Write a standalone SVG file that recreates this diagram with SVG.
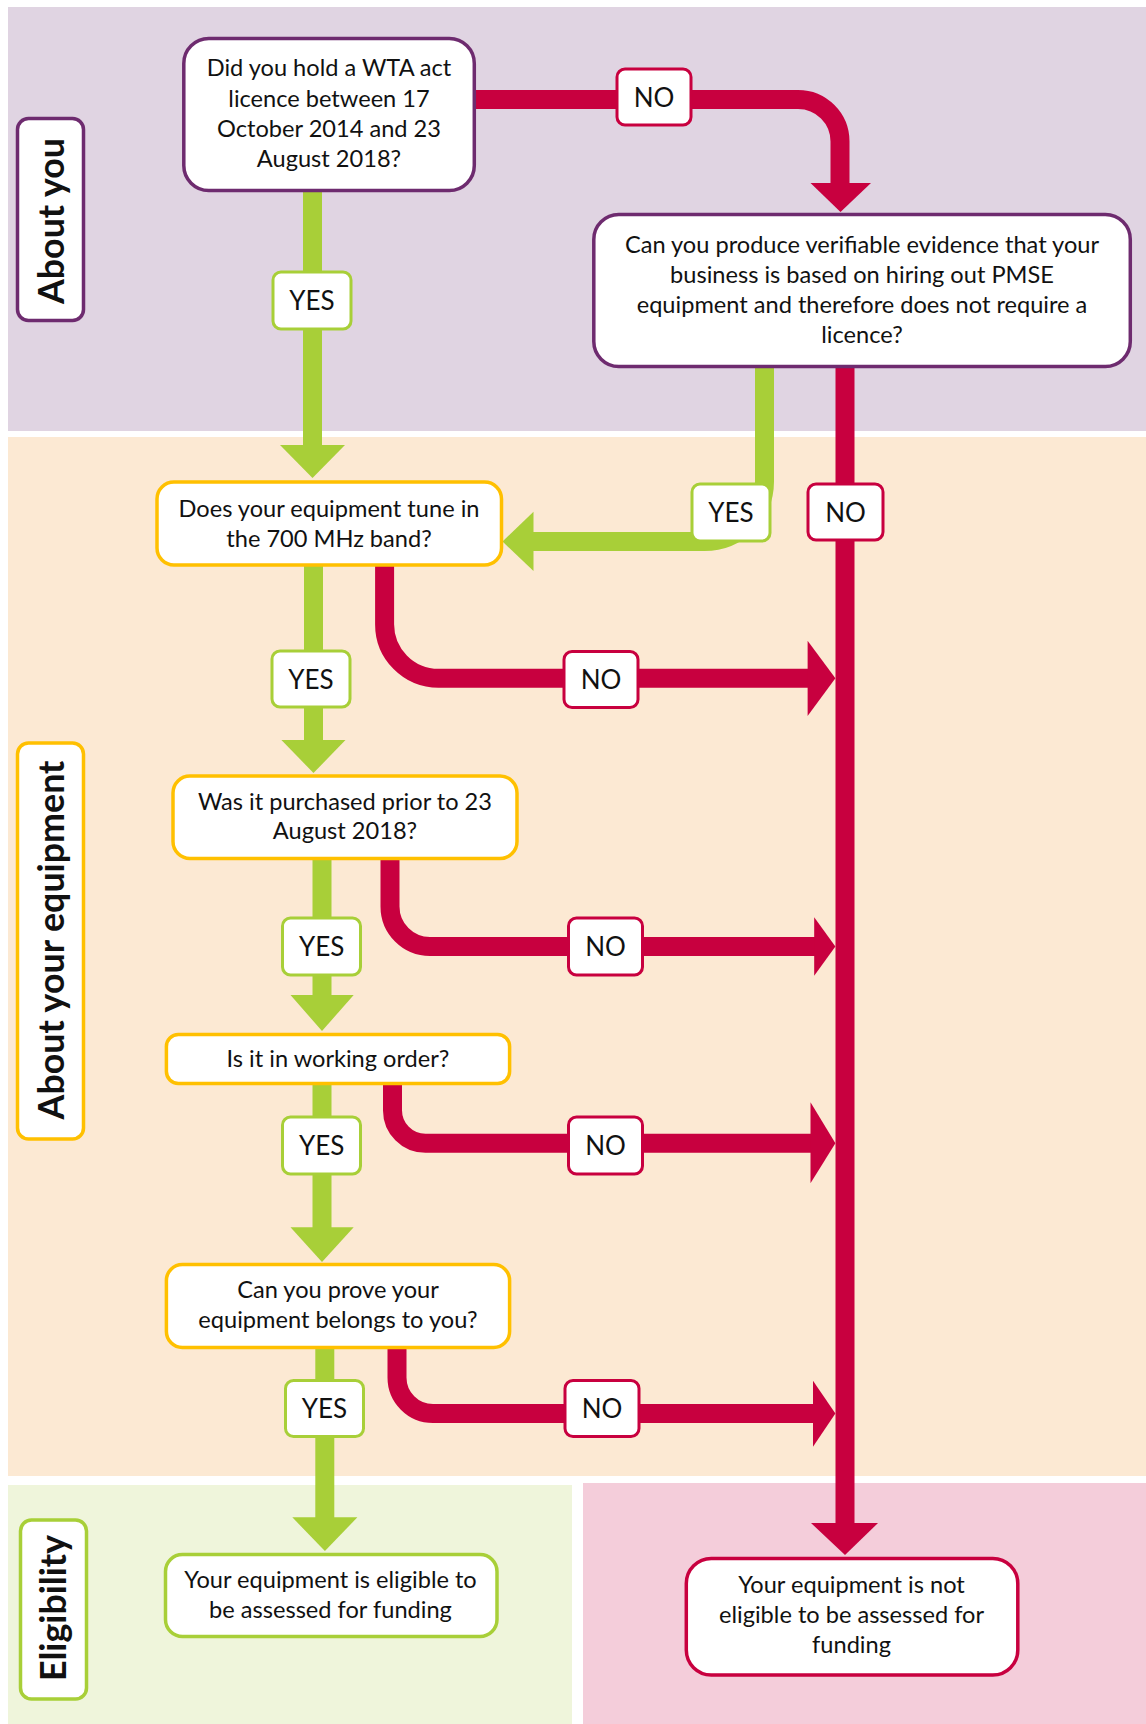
<svg xmlns="http://www.w3.org/2000/svg" width="1146" height="1724" viewBox="0 0 1146 1724">
<defs>
<style>
.t{font-family:Lato,"Open Sans","Liberation Sans",sans-serif;font-size:23.6px;fill:#111;text-anchor:middle}
.lbl{font-size:26px}
.sec{font-weight:700;font-size:35.8px}
.box{fill:#fff;stroke-width:3.5}
.pur{stroke:#6E2B6F}
.yel{stroke:#FFC000}
.grn{stroke:#A8CF38}
.red{stroke:#C8003F}
.g{stroke:#A8CF38;stroke-width:19;fill:none}
.r{stroke:#C8003F;stroke-width:19;fill:none}
.gh{fill:#A8CF38}
.rh{fill:#C8003F}
.lb{fill:#fff;stroke-width:3}
</style>
</defs>
<g id="bands">
<rect x="8" y="7" width="1138" height="424" fill="#E0D4E2"/>
<rect x="8" y="437" width="1138" height="1039" fill="#FCE9D3"/>
<rect x="8" y="1485" width="564" height="239" fill="#EFF5DB"/>
<rect x="583" y="1483" width="563" height="241" fill="#F4CDDA"/>
</g>
<g id="connectors">
<path class="g" d="M312.5 192V446"/>
<polygon class="gh" points="280,445 345,445 312.5,478"/>
<path class="g" d="M764.5 368V481.5A60 60 0 0 1 704.5 541.5H532"/>
<polygon class="gh" points="533.5,511.7 533.5,571 502.5,541.5"/>
<path class="g" d="M313.5 566V741"/>
<polygon class="gh" points="281.4,740 345.5,740 313.5,773"/>
<path class="g" d="M322 860V996"/>
<polygon class="gh" points="290.5,995 353.7,995 322,1031"/>
<path class="g" d="M322 1085V1228"/>
<polygon class="gh" points="290.5,1227.3 353.7,1227.3 322,1262"/>
<path class="g" d="M324.8 1349V1518"/>
<polygon class="gh" points="292.3,1517.3 357.4,1517.3 324.9,1551"/>
<path class="r" d="M476 99.5H798A42 42 0 0 1 840 141.5V184"/>
<polygon class="rh" points="810.5,183 871,183 840.5,212"/>
<path class="r" d="M845 368V1524"/>
<polygon class="rh" points="811,1523 878,1523 845,1555"/>
<path class="r" d="M384.6 566V624A54 54 0 0 0 438.6 678.3H809"/>
<polygon class="rh" points="807.6,640.7 807.6,716 835.4,678.3"/>
<path class="r" d="M390 860V906.5A40 40 0 0 0 430 946.5H815"/>
<polygon class="rh" points="814.2,917.3 814.2,975.7 835.4,946.5"/>
<path class="r" d="M392.5 1085V1110A33 33 0 0 0 425.5 1143.3H812"/>
<polygon class="rh" points="810.5,1102.3 810.5,1183.3 835.4,1143.3"/>
<path class="r" d="M397 1349V1377.5A36 36 0 0 0 433 1413.5H814"/>
<polygon class="rh" points="813,1380.7 813,1446.7 835.4,1413.5"/>
<g id="label-no-1"><rect class="lb red" x="617" y="69" width="74" height="56" rx="8"/><text class="t lbl" x="654" y="106.5">NO</text></g>
<g id="label-yes-1"><rect class="lb grn" x="273" y="272" width="78" height="57" rx="8"/><text class="t lbl" x="312" y="310">YES</text></g>
<g id="label-yes-2"><rect class="lb grn" x="692" y="484" width="78" height="57" rx="8"/><text class="t lbl" x="731" y="522">YES</text></g>
<g id="label-no-2"><rect class="lb red" x="808" y="484" width="75" height="56" rx="8"/><text class="t lbl" x="845.5" y="521.5">NO</text></g>
<g id="label-yes-3"><rect class="lb grn" x="272" y="651" width="78" height="56" rx="8"/><text class="t lbl" x="311" y="688.5">YES</text></g>
<g id="label-no-3"><rect class="lb red" x="564" y="651.5" width="74" height="56" rx="8"/><text class="t lbl" x="601" y="689">NO</text></g>
<g id="label-yes-4"><rect class="lb grn" x="282.5" y="918" width="78" height="57" rx="8"/><text class="t lbl" x="321.6" y="956">YES</text></g>
<g id="label-no-4"><rect class="lb red" x="568.5" y="918" width="74" height="57" rx="8"/><text class="t lbl" x="605.5" y="956">NO</text></g>
<g id="label-yes-5"><rect class="lb grn" x="282.5" y="1117" width="78" height="57" rx="8"/><text class="t lbl" x="321.6" y="1155">YES</text></g>
<g id="label-no-5"><rect class="lb red" x="568.5" y="1117" width="74" height="57" rx="8"/><text class="t lbl" x="605.5" y="1155">NO</text></g>
<g id="label-yes-6"><rect class="lb grn" x="285.5" y="1380.5" width="78" height="56" rx="8"/><text class="t lbl" x="324.5" y="1418">YES</text></g>
<g id="label-no-6"><rect class="lb red" x="565" y="1380.5" width="74" height="56" rx="8"/><text class="t lbl" x="602" y="1418">NO</text></g>
</g>
<g id="sec-about-you"><rect class="box pur" x="17.5" y="118.5" width="66" height="202" rx="11"/><text class="t sec" transform="translate(64 221) rotate(-90)">About you</text></g>
<g id="sec-about-equipment"><rect class="box yel" x="17.5" y="743" width="66" height="396" rx="11"/><text class="t sec" transform="translate(64 940) rotate(-90)">About your equipment</text></g>
<g id="sec-eligibility"><rect class="box grn" x="20.5" y="1520" width="66" height="179" rx="11"/><text class="t sec" transform="translate(66 1608) rotate(-90)">Eligibility</text></g>
<g id="q-licence"><rect class="box pur" x="183.8" y="38.5" width="290.5" height="152" rx="25"/>
<text class="t" x="329" y="76">Did you hold a WTA act</text><text class="t" x="329" y="106.7">licence between 17</text><text class="t" x="329" y="136.7">October 2014 and 23</text><text class="t" x="329" y="166.7">August 2018?</text></g>
<g id="q-evidence"><rect class="box pur" x="593.8" y="214.5" width="536.5" height="152" rx="25"/>
<text class="t" x="862" y="253.3">Can you produce verifiable evidence that your</text><text class="t" x="862" y="283.3">business is based on hiring out PMSE</text><text class="t" x="862" y="313.3">equipment and therefore does not require a</text><text class="t" x="862" y="343.3">licence?</text></g>
<g id="q-700mhz"><rect class="box yel" x="157" y="482" width="344.5" height="83" rx="17"/>
<text class="t" x="329" y="516.7">Does your equipment tune in</text><text class="t" x="329" y="546.7">the 700 MHz band?</text></g>
<g id="q-purchased"><rect class="box yel" x="173" y="776" width="344" height="82.5" rx="17"/>
<text class="t" x="345" y="810">Was it purchased prior to 23</text><text class="t" x="345" y="839.3">August 2018?</text></g>
<g id="q-working"><rect class="box yel" x="166.4" y="1034.5" width="343.2" height="49" rx="12"/>
<text class="t" x="338" y="1066.7">Is it in working order?</text></g>
<g id="q-belongs"><rect class="box yel" x="166.4" y="1264.5" width="343.2" height="83" rx="16"/>
<text class="t" x="338" y="1298.3">Can you prove your</text><text class="t" x="338" y="1328.3">equipment belongs to you?</text></g>
<g id="r-eligible"><rect class="box grn" x="165.5" y="1554.5" width="331.5" height="82" rx="17"/>
<text class="t" x="330.5" y="1588.3">Your equipment is eligible to</text><text class="t" x="330.5" y="1618.3">be assessed for funding</text></g>
<g id="r-not-eligible"><rect class="box red" x="686.3" y="1558.5" width="331.5" height="116.5" rx="25"/>
<text class="t" x="851.5" y="1593">Your equipment is not</text><text class="t" x="851.5" y="1623">eligible to be assessed for</text><text class="t" x="851.5" y="1653">funding</text></g>
</svg>
